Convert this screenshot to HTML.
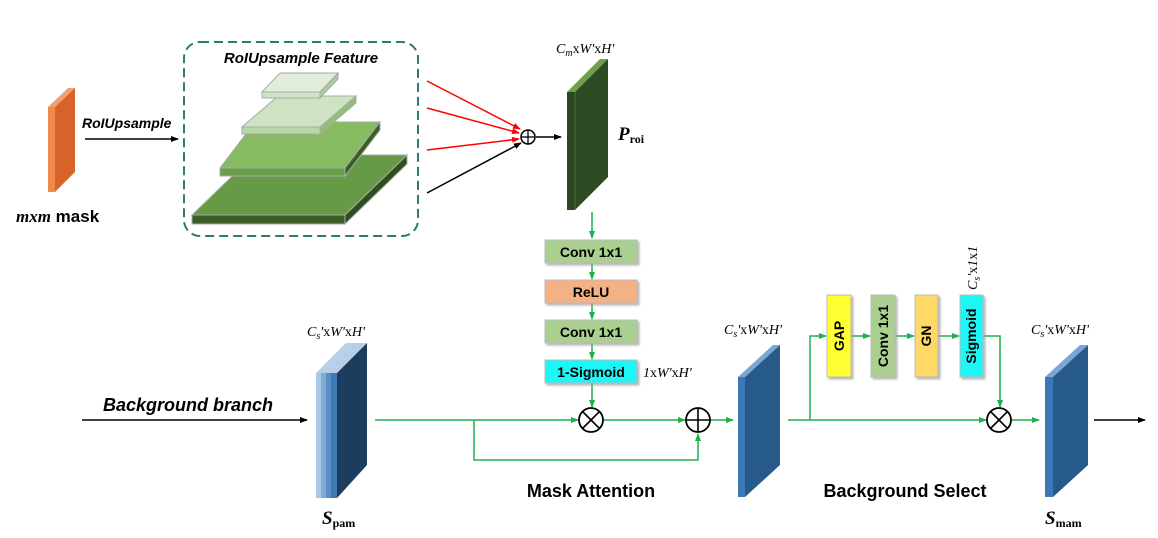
<!DOCTYPE html>
<html><head><meta charset="utf-8"><style>
html,body{margin:0;padding:0;background:#fff;}
svg{display:block}
.s{font-family:"Liberation Sans",sans-serif;font-weight:bold;}
.m{font-family:"Liberation Serif",serif;font-style:italic;}
</style></head><body>
<svg width="1158" height="538" viewBox="0 0 1158 538" xmlns="http://www.w3.org/2000/svg">
<defs>
<marker id="ab" markerWidth="8" markerHeight="8" refX="7" refY="4" orient="auto" markerUnits="userSpaceOnUse"><path d="M0,1 L8,4 L0,7 Z" fill="#000"/></marker>
<marker id="ar" markerWidth="8" markerHeight="8" refX="7" refY="4" orient="auto" markerUnits="userSpaceOnUse"><path d="M0,1 L8,4 L0,7 Z" fill="#f00"/></marker>
<marker id="ag" markerWidth="8" markerHeight="8" refX="7" refY="4" orient="auto" markerUnits="userSpaceOnUse"><path d="M0,1 L8,4 L0,7 Z" fill="#1db14b"/></marker>
<filter id="sh"><feDropShadow dx="2" dy="2" stdDeviation="1" flood-color="#999" flood-opacity="0.7"/></filter>
</defs>

<!-- orange mask -->
<polygon points="48,107 55,107 75,88 68,88" fill="#f0a070"/>
<rect x="48" y="107" width="7" height="85" fill="#f08a4b"/>
<polygon points="55,107 75,88 75,172 55,192" fill="#d8622a"/>
<text x="82" y="128" class="s" font-style="italic" font-size="14">RoIUpsample</text>
<line x1="85" y1="139" x2="178" y2="139" stroke="#000" stroke-width="1.5" marker-end="url(#ab)"/>
<text x="16" y="222" font-size="17"><tspan class="m" font-weight="bold">mxm</tspan><tspan class="s"> mask</tspan></text>

<!-- dashed box -->
<rect x="184" y="42" width="234" height="194" rx="16" fill="none" stroke="#2a7a78" stroke-width="2" stroke-dasharray="9,5"/>
<text x="301" y="63" class="s" font-style="italic" font-size="15" text-anchor="middle">RoIUpsample Feature</text>

<!-- layers -->
<g stroke="#aaa" stroke-width="1">
<polygon points="192,215 345,215 407,155 254,155" fill="#679a45"/>
<rect x="192" y="215" width="153" height="9" fill="#3a5e25"/>
<polygon points="345,215 407,155 407,164 345,224" fill="#2f4d1d"/>
<polygon points="220,168 345,168 380,122 255,122" fill="#86bb62"/>
<rect x="220" y="168" width="125" height="8" fill="#6a9e48"/>
<polygon points="345,168 380,122 380,130 345,176" fill="#3a5e25"/>
<polygon points="242,127 320,127 356,96 278,96" fill="#cde3c3"/>
<rect x="242" y="127" width="78" height="7" fill="#b8d7a8"/>
<polygon points="320,127 356,96 356,103 320,134" fill="#8fbf74"/>
<polygon points="262,92 320,92 338,73 280,73" fill="#e2eedb"/>
<rect x="262" y="92" width="58" height="6" fill="#cfe4c4"/>
<polygon points="320,92 338,73 338,79 320,98" fill="#a8cf92"/>
</g>

<!-- arrows to plus -->
<line x1="427" y1="81" x2="520" y2="129" stroke="#f00" stroke-width="1.5" marker-end="url(#ar)"/>
<line x1="427" y1="108" x2="519" y2="133" stroke="#f00" stroke-width="1.5" marker-end="url(#ar)"/>
<line x1="427" y1="150" x2="519" y2="139" stroke="#f00" stroke-width="1.5" marker-end="url(#ar)"/>
<line x1="427" y1="193" x2="521" y2="143" stroke="#000" stroke-width="1.5" marker-end="url(#ab)"/>
<circle cx="528" cy="137" r="7" fill="#fff" stroke="#000" stroke-width="1.5"/>
<line x1="521" y1="137" x2="535" y2="137" stroke="#000" stroke-width="1.3"/>
<line x1="528" y1="130" x2="528" y2="144" stroke="#000" stroke-width="1.3"/>
<line x1="536" y1="137" x2="561" y2="137" stroke="#000" stroke-width="1.5" marker-end="url(#ab)"/>

<!-- P_roi -->
<polygon points="567,92 575,92 608,59 600,59" fill="#6ea14b"/>
<rect x="567" y="92" width="8" height="118" fill="#2c4620"/>
<polygon points="575,92 608,59 608,177 575,210" fill="#2e4a22"/>
<line x1="575" y1="92" x2="575" y2="210" stroke="#5a7a46" stroke-width="0.8"/>
<text x="556" y="53" class="m" font-size="14">C<tspan font-size="10" dy="3">m</tspan><tspan dy="-3" font-style="normal">x</tspan>W'<tspan font-style="normal">x</tspan>H'</text>
<text x="618" y="140" class="m" font-weight="bold" font-size="19">P<tspan font-size="12" font-style="normal" dy="3">roi</tspan></text>

<!-- vertical chain -->
<g stroke="#1db14b" stroke-width="1.5" fill="none">
<line x1="592" y1="212" x2="592" y2="238" marker-end="url(#ag)"/>
<line x1="592" y1="263" x2="592" y2="279" marker-end="url(#ag)"/>
<line x1="592" y1="303" x2="592" y2="319" marker-end="url(#ag)"/>
<line x1="592" y1="343" x2="592" y2="359" marker-end="url(#ag)"/>
<line x1="592" y1="383" x2="592" y2="407" marker-end="url(#ag)"/>
</g>
<g filter="url(#sh)" stroke="#bbb" stroke-width="1">
<rect x="545" y="240" width="92" height="23" fill="#a9d08e"/>
<rect x="545" y="280" width="92" height="23" fill="#f4b183"/>
<rect x="545" y="320" width="92" height="23" fill="#a9d08e"/>
<rect x="545" y="360" width="92" height="23" fill="#1ef6f6"/>
</g>
<g class="s" font-size="14" text-anchor="middle">
<text x="591" y="257">Conv 1x1</text>
<text x="591" y="297">ReLU</text>
<text x="591" y="337">Conv 1x1</text>
<text x="591" y="377">1-Sigmoid</text>
</g>
<text x="643" y="377" class="m" font-size="14">1<tspan font-style="normal">x</tspan>W'<tspan font-style="normal">x</tspan>H'</text>

<!-- background branch -->
<text x="103" y="411" class="s" font-style="italic" font-size="18">Background branch</text>
<line x1="82" y1="420" x2="307" y2="420" stroke="#000" stroke-width="1.5" marker-end="url(#ab)"/>

<!-- S_pam -->
<polygon points="316,373 337,373 367,343 346,343" fill="#b7d0e8"/>
<rect x="316" y="373" width="5" height="125" fill="#a9c8e6"/>
<rect x="321" y="373" width="5" height="125" fill="#7fa9d6"/>
<rect x="326" y="373" width="5" height="125" fill="#5b8fc8"/>
<rect x="331" y="373" width="6" height="125" fill="#3f79b8"/>
<polygon points="337,373 367,343 367,465 337,498" fill="#1c3d5e"/>
<text x="307" y="336" class="m" font-size="14">C<tspan font-size="10" dy="3">s</tspan><tspan dy="-3">'</tspan><tspan font-style="normal">x</tspan>W'<tspan font-style="normal">x</tspan>H'</text>
<text x="322" y="524" class="m" font-weight="bold" font-size="19">S<tspan font-size="12" font-style="normal" dy="3">pam</tspan></text>

<!-- mask attention lines -->
<g stroke="#1db14b" stroke-width="1.5" fill="none">
<line x1="375" y1="420" x2="578" y2="420" marker-end="url(#ag)"/>
<polyline points="474,420 474,460 698,460 698,434" marker-end="url(#ag)"/>
<line x1="603" y1="420" x2="685" y2="420" marker-end="url(#ag)"/>
<line x1="710" y1="420" x2="733" y2="420" marker-end="url(#ag)"/>
</g>
<circle cx="591" cy="420" r="12" fill="#fff" stroke="#000" stroke-width="1.8"/>
<line x1="583" y1="412" x2="599" y2="428" stroke="#000" stroke-width="1.6"/>
<line x1="599" y1="412" x2="583" y2="428" stroke="#000" stroke-width="1.6"/>
<circle cx="698" cy="420" r="12" fill="#fff" stroke="#000" stroke-width="1.8"/>
<line x1="686" y1="420" x2="710" y2="420" stroke="#000" stroke-width="1.6"/>
<line x1="698" y1="408" x2="698" y2="432" stroke="#000" stroke-width="1.6"/>
<text x="591" y="497" class="s" font-size="18" text-anchor="middle">Mask Attention</text>

<!-- middle slab -->
<polygon points="738,377 745,377 780,345 773,345" fill="#7aa6d6"/>
<rect x="738" y="377" width="7" height="120" fill="#3a78b8"/>
<polygon points="745,377 780,345 780,465 745,497" fill="#265a8a"/>
<text x="724" y="334" class="m" font-size="14">C<tspan font-size="10" dy="3">s</tspan><tspan dy="-3">'</tspan><tspan font-style="normal">x</tspan>W'<tspan font-style="normal">x</tspan>H'</text>

<!-- background select -->
<g stroke="#1db14b" stroke-width="1.5" fill="none">
<line x1="788" y1="420" x2="986" y2="420" marker-end="url(#ag)"/>
<polyline points="810,420 810,336 826,336" marker-end="url(#ag)"/>
<line x1="851" y1="336" x2="870" y2="336" marker-end="url(#ag)"/>
<line x1="895" y1="336" x2="914" y2="336" marker-end="url(#ag)"/>
<line x1="938" y1="336" x2="959" y2="336" marker-end="url(#ag)"/>
<polyline points="983,336 1000,336 1000,407" marker-end="url(#ag)"/>
<line x1="1011" y1="420" x2="1039" y2="420" marker-end="url(#ag)"/>
</g>
<g filter="url(#sh)" stroke="#bbb" stroke-width="1">
<rect x="827" y="295" width="24" height="82" fill="#ffff33"/>
<rect x="871" y="295" width="24" height="82" fill="#a9d08e"/>
<rect x="915" y="295" width="23" height="82" fill="#ffd966"/>
<rect x="960" y="295" width="23" height="82" fill="#1ef6f6"/>
</g>
<g class="s" font-size="14" text-anchor="middle">
<text transform="translate(844,336) rotate(-90)">GAP</text>
<text transform="translate(888,336) rotate(-90)">Conv 1x1</text>
<text transform="translate(931,336) rotate(-90)">GN</text>
<text transform="translate(976,336) rotate(-90)">Sigmoid</text>
</g>
<text transform="translate(977,290) rotate(-90)" class="m" font-size="14">C<tspan font-size="10" dy="3">s</tspan><tspan dy="-3">'</tspan><tspan font-style="normal">x</tspan>1<tspan font-style="normal">x</tspan>1</text>
<circle cx="999" cy="420" r="12" fill="#fff" stroke="#000" stroke-width="1.8"/>
<line x1="991" y1="412" x2="1007" y2="428" stroke="#000" stroke-width="1.6"/>
<line x1="1007" y1="412" x2="991" y2="428" stroke="#000" stroke-width="1.6"/>
<text x="905" y="497" class="s" font-size="18" text-anchor="middle">Background Select</text>

<!-- S_mam -->
<polygon points="1045,377 1053,377 1088,345 1080,345" fill="#7aa6d6"/>
<rect x="1045" y="377" width="8" height="120" fill="#3a78b8"/>
<polygon points="1053,377 1088,345 1088,465 1053,497" fill="#265a8a"/>
<text x="1031" y="334" class="m" font-size="14">C<tspan font-size="10" dy="3">s</tspan><tspan dy="-3">'</tspan><tspan font-style="normal">x</tspan>W'<tspan font-style="normal">x</tspan>H'</text>
<text x="1045" y="524" class="m" font-weight="bold" font-size="19">S<tspan font-size="12" font-style="normal" dy="3">mam</tspan></text>
<line x1="1094" y1="420" x2="1145" y2="420" stroke="#000" stroke-width="1.5" marker-end="url(#ab)"/>
</svg>
</body></html>
